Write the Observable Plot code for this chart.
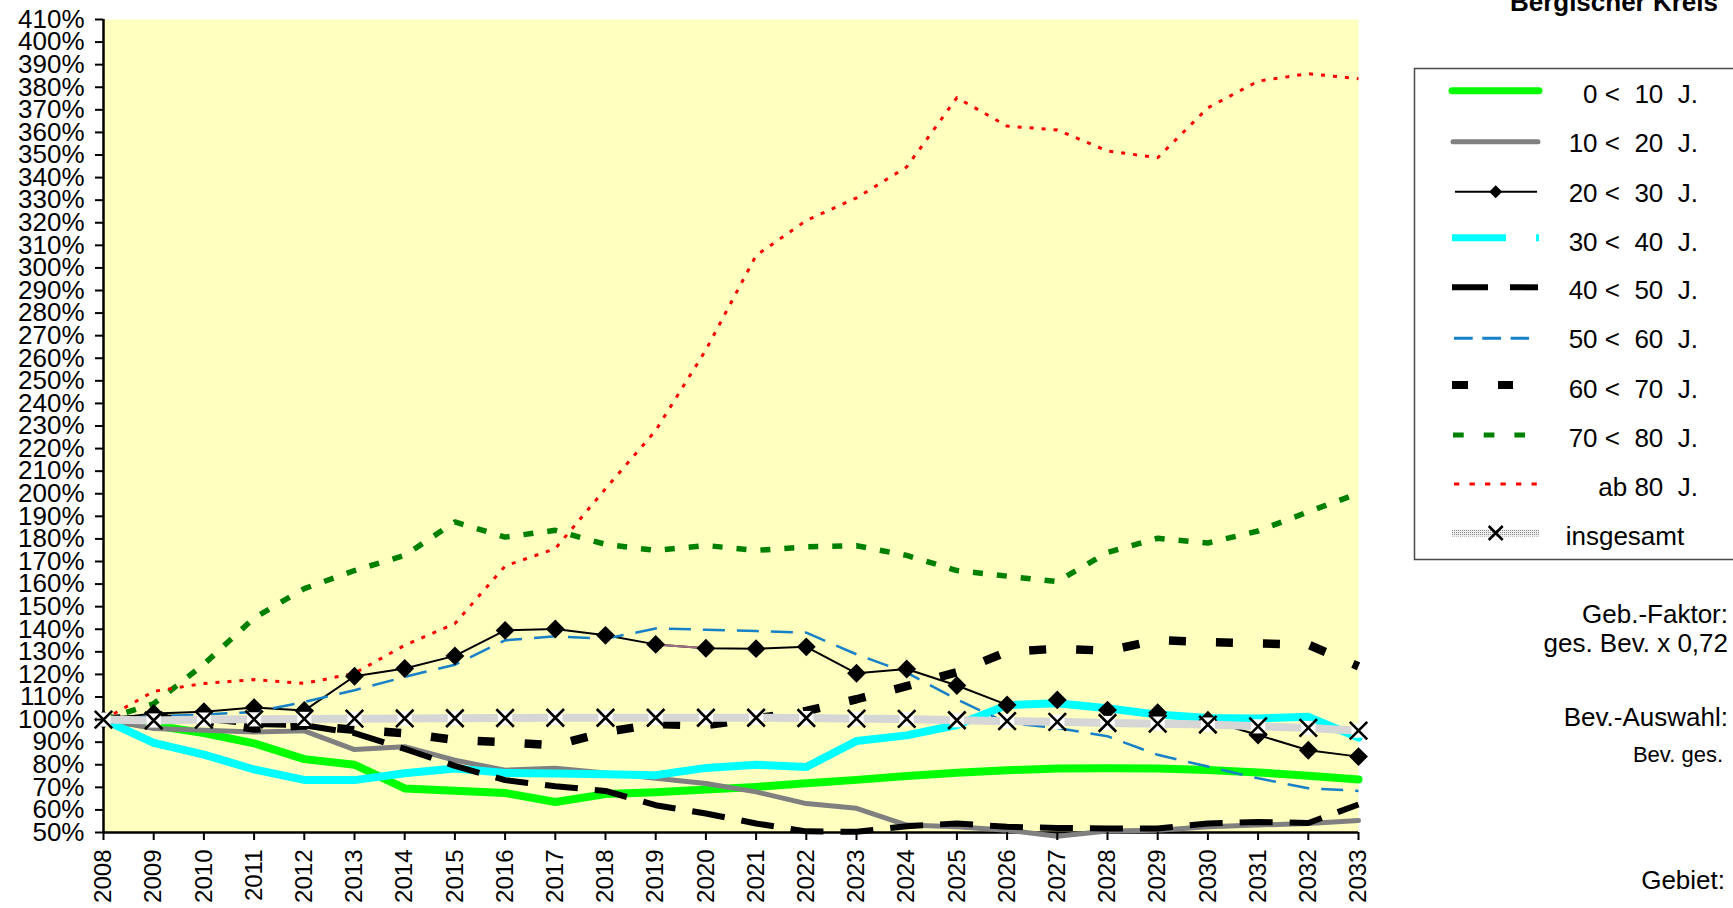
<!DOCTYPE html>
<html><head><meta charset="utf-8">
<script src="https://cdn.jsdelivr.net/npm/d3@7"></script>
<script src="https://cdn.jsdelivr.net/npm/@observablehq/plot@0.6"></script>
<style>
html,body{margin:0;padding:0;background:#fff;width:1733px;height:908px;overflow:hidden;font-family:"Liberation Sans",Arial,sans-serif;}
#chart{position:absolute;left:0;top:0;}
#side{position:absolute;left:0;top:0;pointer-events:none;}
</style></head><body>
<div id="chart"></div>
<svg id="side" width="1733" height="908"></svg>
<script>
// ---- data ----
const years = [2008,2009,2010,2011,2012,2013,2014,2015,2016,2017,2018,2019,2020,2021,2022,2023,2024,2025,2026,2027,2028,2029,2030,2031,2032,2033];
const v0_10   = [100,97.5,94,89.5,82.5,80,69.5,68.5,67.5,63.5,67,67.8,69,70.2,71.8,73.3,75,76.5,77.6,78.3,78.5,78.3,77.7,76.6,75.1,73.5];
const v10_20  = [100,96,95.3,94.5,95,86.7,88,82,77.6,78.5,76.4,74,71.7,68,62.8,60.7,53.3,52.5,51,48.3,50.7,51,52.5,53.3,54,55.3];
const v20_30  = [100,102.7,103.5,105.3,104,119.2,122.6,128.2,139.5,140.1,137.3,133.3,131.6,131.4,132.2,120.5,122.4,115.1,106.5,108.7,104.2,103,99.7,93.2,86.4,83.6];
const v30_40  = [100,89.7,84.5,77.9,73.3,73.2,76.2,78.3,76.4,76.1,75.8,75.4,78.6,80,79,90.5,93,97.6,106.4,107.2,105,102.2,100.7,100.5,101.2,92];
const v40_50  = [100,101,100.5,98,97.5,94,87,79.5,73.2,70.5,68.4,62.1,58.4,54,50.5,50.3,52.8,54,52.5,52,51.8,51.8,54,54.7,54.2,62.4];
const v50_60  = [100,101.5,102.2,103.4,107.8,113,118.9,124.3,135.1,136.9,135.8,140.3,139.8,139.2,138.5,128.9,120.8,108.9,98.5,96.3,92.6,84.4,79.2,74,69.6,68.4];
const v60_70  = [100,101.5,99.5,96,97.5,95.5,94,91,90,88.6,94.5,98,97.5,100.5,103.8,109,114.8,121,130,131.4,130.5,135.2,134.3,133.7,133.2,123.6];
const v70_80  = [100,107,124.5,145,158,166,172.7,187.5,180.8,183.8,177.6,174.9,177.1,174.9,176.5,177,172.7,166,163.5,161.1,174,180.3,178.2,183.5,192,200.2];
const vAb80   = [100,112.5,116,117.7,116,120.5,132.9,142.5,168,175.7,202.2,228,263.7,305.5,321,331,344.7,375.4,362.8,361.1,351.8,348.8,370.9,382.7,386,383.8];
const vTotal  = [100,99.6,100,100.1,100.3,100.4,100.5,100.6,100.7,100.8,100.8,100.8,100.8,100.8,100.7,100.4,100.3,99.7,99.3,99,98.5,98.2,97.8,97,96.3,95.1];
const seriesNames = ["0 <  10  J.","10 <  20  J.","20 <  30  J.","30 <  40  J.","40 <  50  J.","50 <  60  J.","60 <  70  J.","70 <  80  J.","ab 80  J.","insgesamt"];
const seriesValues = [v0_10,v10_20,v20_30,v30_40,v40_50,v50_60,v60_70,v70_80,vAb80,vTotal];
const yTicks = [50,60,70,80,90,100,110,120,130,140,150,160,170,180,190,200,210,220,230,240,250,260,270,280,290,300,310,320,330,340,350,360,370,380,390,400,410];
const titleText = "Bergischer Kreis";
const notes = [
  {text:"Geb.-Faktor:", size:26},
  {text:"ges. Bev. x 0,72", size:26},
  {text:"Bev.-Auswahl:", size:26},
  {text:"Bev. ges.", size:22},
  {text:"Gebiet:", size:26}
];

// ---- build table ----
const rows = [];
seriesNames.forEach((name, i) => seriesValues[i].forEach((v, j) => rows.push({series: name, year: years[j], value: v})));
const bySeries = name => rows.filter(d => d.series === name);

const TOTAL_TMP = "#cfcfcf";
const lineStyle = {
  "0 <  10  J.":  {stroke:"#00ff00", strokeWidth:8, strokeLinecap:"round", strokeLinejoin:"round"},
  "10 <  20  J.": {stroke:"#808080", strokeWidth:5, strokeLinejoin:"round"},
  "20 <  30  J.": {stroke:"#000000", strokeWidth:2},
  "30 <  40  J.": {stroke:"#00ffff", strokeWidth:8, strokeLinejoin:"round"},
  "40 <  50  J.": {stroke:"#000000", strokeWidth:6, strokeDasharray:"33,17", strokeLinecap:"butt"},
  "50 <  60  J.": {stroke:"#1681c6", strokeWidth:2.5, strokeDasharray:"22,12", strokeLinecap:"butt"},
  "60 <  70  J.": {stroke:"#000000", strokeWidth:8.5, strokeDasharray:"17,30", strokeLinecap:"butt"},
  "70 <  80  J.": {stroke:"#008000", strokeWidth:5.5, strokeDasharray:"10,14", strokeLinecap:"butt"},
  "ab 80  J.":    {stroke:"#ff0000", strokeWidth:3, strokeDasharray:"4,8", strokeLinecap:"butt"},
  "insgesamt":    {stroke:TOTAL_TMP, strokeWidth:8, strokeLinecap:"butt"}
};

const marks = [
  Plot.frame({fill:"#ffffc0", stroke:null}),
  Plot.ruleY([50], {strokeWidth:2.5}),
  Plot.ruleX([2008], {strokeWidth:2.5}),
  ...seriesNames.slice(0, 9).map(name => Plot.line(bySeries(name), {x:"year", y:"value", ...lineStyle[name]})),
  Plot.line(bySeries("20 <  30  J.").filter(d => d.year === 2019 || d.year === 2020), {x:"year", y:"value", stroke:"#a07088", strokeWidth:2}),
  Plot.dot(bySeries("20 <  30  J."), {x:"year", y:"value", symbol:"diamond2", r:8.5, fill:"#000", stroke:null}),
  Plot.line(bySeries("insgesamt"), {x:"year", y:"value", ...lineStyle["insgesamt"]}),
  Plot.dot(bySeries("insgesamt"), {x:"year", y:"value", symbol:"square", r:8, fill:"#fff", stroke:null}),
  Plot.dot(bySeries("insgesamt"), {x:"year", y:"value", symbol:"times", r:8, stroke:"#000", strokeWidth:2.6}),
  Plot.axisX({ticks: years, tickFormat: d => String(d), tickRotate:-90, fontSize:24, tickSize:8, tickPadding:9, strokeWidth:2, label:null}),
  Plot.axisY({ticks: yTicks, tickFormat: d => d + "%", fontSize:26, tickSize:8, tickPadding:11, strokeWidth:2, label:null})
];

const chart = Plot.plot({
  width:1733, height:908,
  marginLeft:103, marginRight:375, marginTop:19, marginBottom:76,
  x:{domain:[2008,2033]},
  y:{domain:[50,410]},
  style:{fontFamily:'"Liberation Sans", Arial, sans-serif', background:"transparent", overflow:"visible", color:"#000"},
  marks
});
document.getElementById("chart").appendChild(chart);

// texture pattern for "insgesamt"
const defs = d3.select(chart).insert("defs", ":first-child");
const pat = defs.append("pattern").attr("id","dots").attr("patternUnits","userSpaceOnUse").attr("width",2).attr("height",2);
pat.append("rect").attr("width",2).attr("height",2).attr("fill","#eeeeee");
pat.append("rect").attr("width",1).attr("height",1).attr("fill","#8c8c8c");
d3.select(chart).selectAll(`[stroke="${TOTAL_TMP}"]`).attr("stroke","url(#dots)");

// ---- side: title, legend, notes ----
const side = d3.select("#side");
const sdefs = side.append("defs");
const pat2 = sdefs.append("pattern").attr("id","dots2").attr("patternUnits","userSpaceOnUse").attr("width",2).attr("height",2);
pat2.append("rect").attr("width",2).attr("height",2).attr("fill","#eeeeee");
pat2.append("rect").attr("width",1).attr("height",1).attr("fill","#8c8c8c");

const font = '"Liberation Sans", Arial, sans-serif';
side.append("text").attr("x",1718).attr("y",11).attr("text-anchor","end")
  .attr("font-family",font).attr("font-size",26).attr("font-weight","bold").text(titleText);

side.append("rect").attr("x",1414.5).attr("y",68.5).attr("width",400).attr("height",491)
  .attr("fill","#fff").attr("stroke","#4a4a4a").attr("stroke-width",1.5);

const legendSwatch = [
  {x1:1452, x2:1539, w:7,   c:"#00ff00", dash:null, cap:"round"},
  {x1:1453, x2:1538, w:5,   c:"#808080", dash:null, cap:"round"},
  {x1:1455, x2:1537, w:2,   c:"#000000", dash:null, cap:"butt", diamond:true},
  {x1:1452, x2:1539, w:7,   c:"#00ffff", dash:"54,30", cap:"butt"},
  {x1:1452, x2:1538, w:6,   c:"#000000", dash:"36,22", cap:"butt"},
  {x1:1454, x2:1529, w:3,   c:"#1681c6", dash:"18.7,9.6", cap:"butt"},
  {x1:1452, x2:1513, w:8,   c:"#000000", dash:"16,30", cap:"butt"},
  {x1:1453, x2:1525, w:5,   c:"#008000", dash:"10.7,20", cap:"butt"},
  {x1:1454, x2:1537, w:3,   c:"#ff0000", dash:"5.3,10.2", cap:"butt"},
  {x1:1452, x2:1539, w:7,   c:"url(#dots2)", dash:null, cap:"butt", cross:true}
];
const swY = [90.7,141.7,191.7,237.7,287.3,338.3,385,435,484,533];
const txY = [103,152.3,201.5,250.5,299,348,397.6,446.7,495.5,545];
seriesNames.forEach((name, i) => {
  const s = legendSwatch[i];
  const ln = side.append("line").attr("x1",s.x1).attr("x2",s.x2).attr("y1",swY[i]).attr("y2",swY[i])
    .attr("stroke",s.c).attr("stroke-width",s.w).attr("stroke-linecap",s.cap);
  if (s.dash) ln.attr("stroke-dasharray",s.dash);
  if (s.diamond) {
    const cx = 1495.7, cy = swY[i], h = 6.5;
    side.append("path").attr("d",`M${cx},${cy-h}L${cx+h},${cy}L${cx},${cy+h}L${cx-h},${cy}Z`).attr("fill","#000");
  }
  if (s.cross) {
    const cx = 1495.7, cy = swY[i], h = 7;
    side.append("path").attr("d",`M${cx-h},${cy-h}L${cx+h},${cy+h}M${cx+h},${cy-h}L${cx-h},${cy+h}`)
      .attr("stroke","#000").attr("stroke-width",2.5).attr("fill","none");
  }
  const isTotal = name === "insgesamt";
  side.append("text").attr("x", isTotal ? 1565.7 : 1698).attr("y", txY[i])
    .attr("text-anchor", isTotal ? "start" : "end")
    .attr("font-family",font).attr("font-size",26).attr("xml:space","preserve")
    .style("white-space","pre").text(name);
});

const noteX = [1728,1728,1728,1723,1725];
const noteY = [623,652,725.5,762,889];
notes.forEach((n, i) => {
  side.append("text").attr("x",noteX[i]).attr("y",noteY[i]).attr("text-anchor","end")
    .attr("font-family",font).attr("font-size",n.size).text(n.text);
});
</script>
</body></html>
